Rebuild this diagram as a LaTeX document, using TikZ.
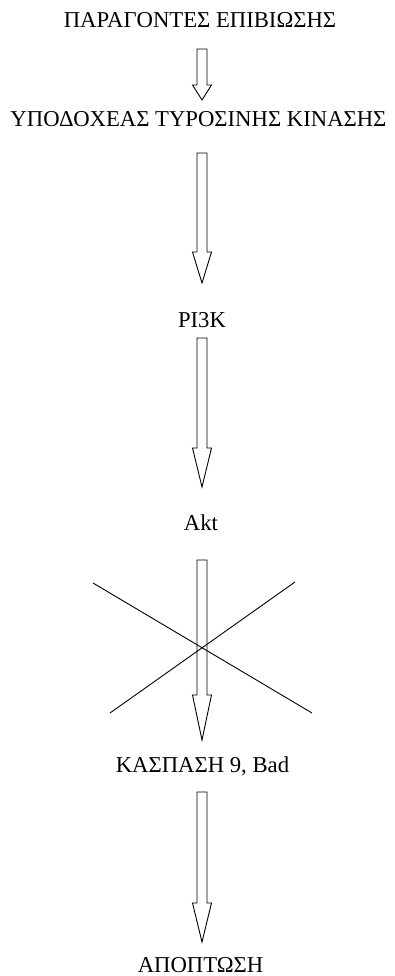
\documentclass[tikz,border=0pt]{standalone}
\usepackage{fontspec}
\setmainfont{Liberation Serif}
\begin{document}
\begin{tikzpicture}[x=1pt,y=1pt,
  label/.style={anchor=base,inner sep=0pt,font=\fontsize{22.7}{27}\selectfont},
  hollow/.style={draw=black,line width=0.9pt,fill=white,line join=miter},
  crossline/.style={draw=black,line width=0.9pt}]
% canvas
\path[fill=white,use as bounding box] (0,0) rectangle (395,-976);

% labels of the pathway
\node[label] (surv)  at (200,-28)    {ΠΑΡΑΓΟΝΤΕΣ ΕΠΙΒΙΩΣΗΣ};
\node[label] (rtk)   at (198.5,-127) {ΥΠΟΔΟΧΕΑΣ ΤΥΡΟΣΙΝΗΣ ΚΙΝΑΣΗΣ};
\node[label] (pi3k)  at (202,-327)   {PI3K};
\node[label] (akt)   at (201,-530)   {Akt};
\node[label] (casp)  at (202.5,-772) {ΚΑΣΠΑΣΗ 9, Bad};
\node[label] (apop)  at (200.5,-972) {ΑΠΟΠΤΩΣΗ};

% hollow block arrow: shaft top, start of head, tip (distances from the top edge)
\newcommand{\blockarrow}[3]{%
  \draw[hollow] (197,-#1) -- (207,-#1) -- (207,-#2) -- (211.5,-#2)
    -- (202,-#3) -- (192.5,-#2) -- (197,-#2) -- cycle;}

\blockarrow{49}{85}{100}
\blockarrow{153}{252}{283}
\blockarrow{338}{448}{487}
\blockarrow{560}{695}{740}
\blockarrow{792}{903}{942}

% the blocked step Akt -> caspase 9 / Bad
\coordinate (x1a) at (93,-583);
\coordinate (x1b) at (312,-713);
\coordinate (x2a) at (295,-582);
\coordinate (x2b) at (110,-713);
\draw[crossline] (x1a) -- (x1b);
\draw[crossline] (x2a) -- (x2b);
\end{tikzpicture}
\end{document}
